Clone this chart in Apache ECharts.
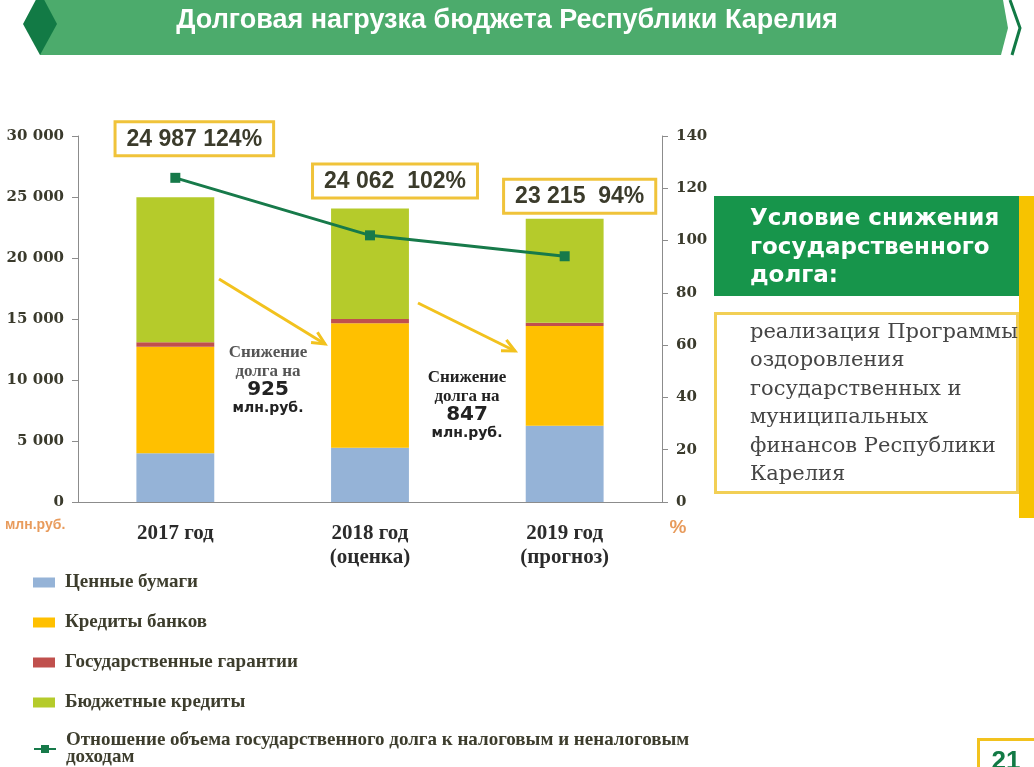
<!DOCTYPE html>
<html>
<head>
<meta charset="utf-8">
<script src="https://cdn.jsdelivr.net/npm/echarts@6/dist/echarts.min.js"></script>
<style>html,body{margin:0;padding:0;background:#fff;}#c{width:1034px;height:767px;}</style>
</head>
<body>
<div id="c"></div>
<script>
const categories = ['2017 год', '2018 год\n(оценка)', '2019 год\n(прогноз)'];
const seriesNames = ['Ценные бумаги', 'Кредиты банков', 'Государственные гарантии', 'Бюджетные кредиты',
  'Отношение объема государственного долга к налоговым и неналоговым доходам'];
const securities = [4000, 4450, 6250];
const bankCredits = [8730, 10200, 8180];
const guarantees = [360, 350, 270];
const budgetCredits = [11897, 9062, 8515];
const totalDebt = [24987, 24062, 23215];
const debtRatio = [124, 102, 94];
const debtDecrease = [925, 847];
const leftTicks = { min: 0, max: 30000, interval: 5000 };
const rightTicks = { min: 0, max: 140, interval: 20 };

const fmt = v => String(v).replace(/\B(?=(\d{3})+(?!\d))/g, ' ');
const chart = echarts.init(document.getElementById('c'));
const axisFont = { fontFamily: 'DejaVu Serif', fontWeight: 'bold', fontSize: 15, color: '#3a3a2c' };
const labelOffsets = [[19, -38], [25, -7], [15, -2]];
const gap = [' ', '  ', '  '];
const legendText = { fontFamily: 'Liberation Serif', fontWeight: 'bold', fontSize: 19, lineHeight: 17, color: '#3d3d2d', padding: [0, 0, 0, 5] };

const arrowColor = '#f2c21e';
function arrow(x1, y1, x2, y2) {
  const a = Math.atan2(y2 - y1, x2 - x1), L = 14, w = 0.45;
  return [
    { type: 'line', shape: { x1, y1, x2, y2 }, style: { stroke: arrowColor, lineWidth: 3 } },
    { type: 'polyline', shape: { points: [[x2 - L * Math.cos(a - w), y2 - L * Math.sin(a - w)], [x2, y2], [x2 - L * Math.cos(a + w), y2 - L * Math.sin(a + w)]] },
      style: { stroke: arrowColor, lineWidth: 3, fill: null } }
  ];
}
function note(x, y, amount, col) {
  return [
    { type: 'text', x, y, style: { text: 'Снижение\nдолга на', fill: col, font: 'bold 17px "Liberation Serif"', align: 'center', verticalAlign: 'top', lineHeight: 19 } },
    { type: 'text', x, y: y + 37, style: { text: String(amount), fill: '#222', font: 'bold 20px "DejaVu Sans"', align: 'center', verticalAlign: 'top' } },
    { type: 'text', x, y: y + 58, style: { text: 'млн.руб.', fill: '#222', font: 'bold 14px "DejaVu Sans"', align: 'center', verticalAlign: 'top' } }
  ];
}

const option = {
  animation: false,
  grid: { left: 78, right: 372, top: 136, bottom: 265 },
  legend: [{
    orient: 'vertical', left: 33, top: 573, padding: 0, itemGap: 21, itemWidth: 22, itemHeight: 10,
    data: seriesNames.slice(0, 4).map(n => ({ name: n, icon: 'rect' })),
    textStyle: legendText
  }, {
    orient: 'vertical', left: 33, top: 731, padding: 0, itemWidth: 22, itemHeight: 10,
    data: [seriesNames[4]],
    formatter: n => n.replace(' доходам', '\nдоходам'),
    textStyle: legendText
  }],
  xAxis: {
    type: 'category', data: categories,
    axisLine: { lineStyle: { color: '#8c8c8c' } },
    axisTick: { length: 6, lineStyle: { color: '#8c8c8c' } },
    axisLabel: { margin: 20, fontFamily: 'Liberation Serif', fontWeight: 'bold', fontSize: 21, lineHeight: 24, color: '#2b2b2b' }
  },
  yAxis: [
    { type: 'value', ...leftTicks, splitLine: { show: false },
      axisLine: { show: true, lineStyle: { color: '#8c8c8c' } }, axisTick: { show: true, length: 6, lineStyle: { color: '#8c8c8c' } },
      axisLabel: { ...axisFont, margin: 14, formatter: v => fmt(v) } },
    { type: 'value', ...rightTicks, position: 'right', splitLine: { show: false },
      axisLine: { show: true, lineStyle: { color: '#8c8c8c' } }, axisTick: { show: true, length: 6, lineStyle: { color: '#8c8c8c' } },
      axisLabel: { ...axisFont, margin: 14 } }
  ],
  series: [
    { name: seriesNames[0], type: 'bar', stack: 'd', barWidth: '40%', data: securities, itemStyle: { color: '#95b3d7' } },
    { name: seriesNames[1], type: 'bar', stack: 'd', data: bankCredits, itemStyle: { color: '#ffc000' } },
    { name: seriesNames[2], type: 'bar', stack: 'd', data: guarantees, itemStyle: { color: '#c0504d' } },
    { name: seriesNames[3], type: 'bar', stack: 'd', itemStyle: { color: '#b5cb2b' },
      data: budgetCredits.map((v, i) => ({ value: v, label: { offset: labelOffsets[i] } })),
      label: { show: true, position: 'top', distance: 5,
        formatter: p => fmt(totalDebt[p.dataIndex]) + gap[p.dataIndex] + debtRatio[p.dataIndex] + '%',
        fontFamily: 'Liberation Sans', fontWeight: 'bold', fontSize: 23, color: '#3b3b2b', lineHeight: 26,
        backgroundColor: '#fff', borderColor: '#f0c33a', borderWidth: 3, padding: [3, 10, 2, 10] } },
    { name: seriesNames[4], type: 'line', yAxisIndex: 1, data: debtRatio, z: 5,
      symbol: 'rect', symbolSize: 10, lineStyle: { color: '#177a4a', width: 3 }, itemStyle: { color: '#177a4a' } }
  ],
  graphic: [
    { type: 'polygon', shape: { points: [[40, 0], [1003, 0], [1008, 28], [1001, 55], [40, 55]] }, style: { fill: '#4cab6c' } },
    { type: 'polygon', shape: { points: [[40, -8], [57, 24], [40, 55], [23, 24]] }, style: { fill: '#127a45' } },
    { type: 'polyline', shape: { points: [[1010, 0], [1020, 28], [1012, 55]] }, style: { stroke: '#127a45', lineWidth: 3, fill: null } },
    { type: 'text', x: 507, y: 21, style: { text: 'Долговая нагрузка бюджета Республики Карелия', fill: '#fff', font: 'bold 27px "Liberation Sans"', align: 'center', verticalAlign: 'middle' } },
    { type: 'text', x: 5, y: 525, style: { text: 'млн.руб.', fill: '#e89b5c', font: 'bold 14px "Liberation Sans"', verticalAlign: 'middle' } },
    { type: 'text', x: 678, y: 528, style: { text: '%', fill: '#e89b5c', font: 'bold 19px "Liberation Sans"', align: 'center', verticalAlign: 'middle' } },
    ...arrow(219, 279, 325, 344),
    ...arrow(418, 303, 515, 351),
    ...note(268, 343, debtDecrease[0], '#555'),
    ...note(467, 368, debtDecrease[1], '#222'),
    { type: 'rect', shape: { x: 1019, y: 196, width: 16, height: 322 }, style: { fill: '#f7c300' } },
    { type: 'rect', shape: { x: 714, y: 196, width: 305, height: 100 }, style: { fill: '#17954b' } },
    { type: 'text', x: 750, y: 205, style: { text: 'Условие снижения\nгосударственного\nдолга:', fill: '#fff', font: 'bold 23px "DejaVu Sans"', lineHeight: 28.5, verticalAlign: 'top' } },
    { type: 'rect', shape: { x: 715.5, y: 313.5, width: 302, height: 179 }, style: { fill: '#fff', stroke: '#f2cf55', lineWidth: 3 } },
    { type: 'text', x: 750, y: 318, style: { text: 'реализация Программы\nоздоровления\nгосударственных и\nмуниципальных\nфинансов Республики\nКарелия', fill: '#454545', font: '21px "DejaVu Serif"', lineHeight: 28.5, verticalAlign: 'top' } },
    { type: 'rect', shape: { x: 978.5, y: 739.5, width: 60, height: 40 }, style: { fill: '#fff', stroke: '#f2c21e', lineWidth: 3 } },
    { type: 'text', x: 1006, y: 762, style: { text: '21', fill: '#127a45', font: 'bold 26px "Liberation Sans"', align: 'center', verticalAlign: 'middle' } }
  ]
};
chart.setOption(option);
</script>
</body>
</html>
